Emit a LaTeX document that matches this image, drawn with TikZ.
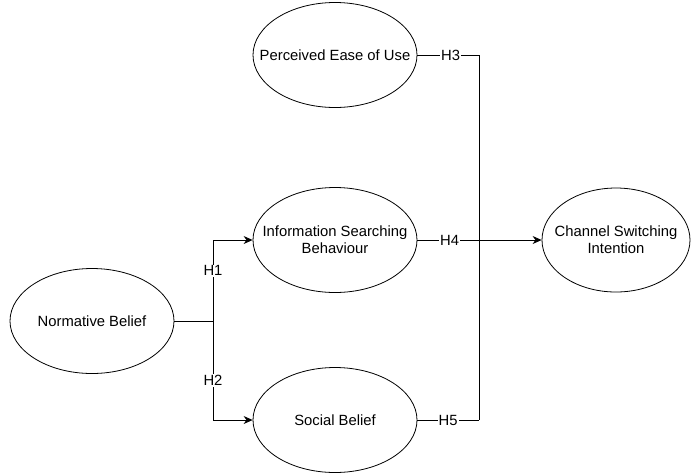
\documentclass[tikz,border=0pt]{standalone}
\usepackage{fontspec}
\setmainfont{Liberation Sans}
\usetikzlibrary{positioning,shapes.geometric,arrows.meta}
\tikzstyle{construct} = [ellipse, draw=black, line width=0.8pt, minimum width=164pt, minimum height=105pt, inner xsep=-25pt, inner ysep=0pt, align=center]
\tikzstyle{arrow} = [line width=0.8pt, -{Stealth[length=9pt,width=8pt]}]
\tikzstyle{link} = [line width=0.8pt]
\tikzstyle{hyp} = [fill=white, inner sep=1pt]

\begin{document}
\begin{tikzpicture}[x=1pt, y=-1pt, font=\fontsize{14.8}{17}\selectfont]
			\useasboundingbox (0,0) rectangle (693,475);
			\node[construct] (ease) at (335,55) {Perceived Ease of Use};
			\node[construct] (info) at (335,240) {Information Searching\\Behaviour};
			\node[construct] (normative) at (92,321) {Normative Belief};
			\node[construct] (social) at (335,420) {Social Belief};
			\node[construct, minimum width=148pt, minimum height=104pt] (channel) at (616,240) {Channel Switching\\Intention};
			\coordinate (split) at (213,321);
			\coordinate (join) at (479,420);
			\draw[link] (normative) -- (split);
			\draw[arrow] (split) |- node[hyp, pos=0.31] {H1} (info);
			\draw[arrow] (split) |- node[hyp, pos=0.30] {H2} (social);
			\draw[link] (ease) -| node[hyp, pos=0.27] {H3} (join);
			\draw[arrow] (info) -- node[hyp, pos=0.26] {H4} (channel);
			\draw[link] (social) -- node[hyp] {H5} (join);
		\end{tikzpicture}
\end{document}
